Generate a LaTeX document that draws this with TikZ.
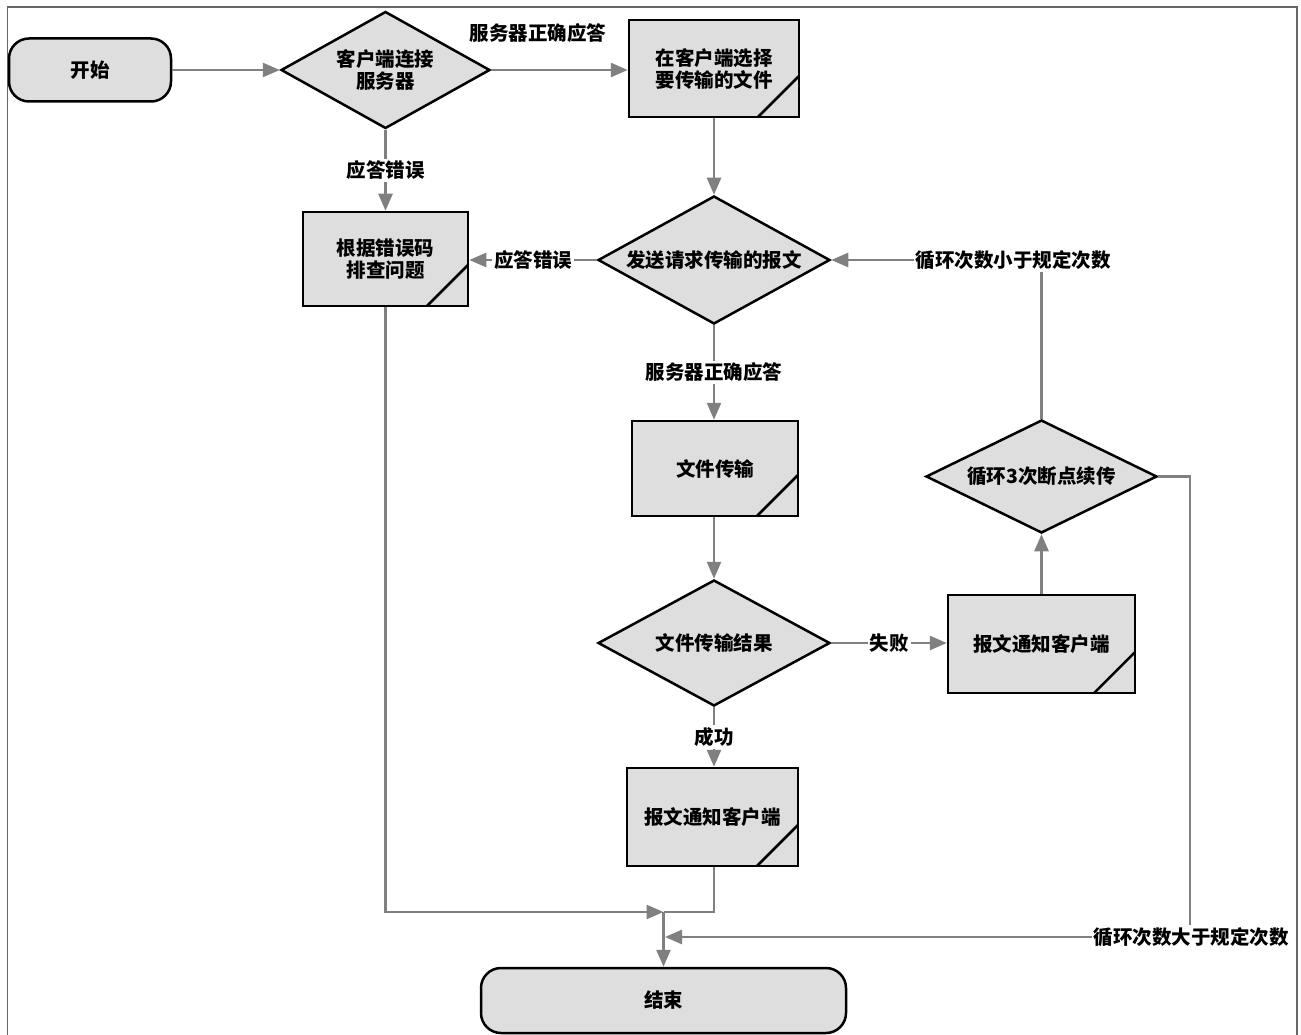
\documentclass[tikz,border=0pt]{standalone}
\usepackage{fontspec}
\setmainfont{Noto Sans CJK SC}
\usetikzlibrary{shapes.geometric,arrows.meta}
\definecolor{boxfill}{HTML}{DEDEDE}
\definecolor{conn}{HTML}{808080}
\begin{document}
\begin{tikzpicture}[x=1pt,y=-1pt,
  every node/.style={font=\fontsize{19.5}{22}\selectfont\bfseries},
  term/.style={draw=black,line width=2.5pt,fill=boxfill,rounded corners=20pt,inner sep=0pt},
  procbox/.style={draw=black,line width=2.5pt,fill=boxfill,inner sep=0pt,align=center,
    path picture={\draw[line width=2.5pt] ([xshift=-41pt]path picture bounding box.south east) -- ++(41pt,41pt);}},
  decide/.style={draw=black,line width=2.5pt,fill=boxfill,diamond,inner sep=0pt,align=center},
  conn/.style={draw=conn,line width=2.6pt,-{Triangle[length=17pt,width=14pt]}},
  plain/.style={draw=conn,line width=2.6pt},
  lbl/.style={fill=white,inner sep=2pt}]
\useasboundingbox (0,0) rectangle (1301,1035);
% frame
\draw[draw=black!60,line width=1.2pt] (7.5,1040) -- (7.5,7) -- (1297,7) -- (1297,1040);

% nodes
\node[term,minimum width=162pt,minimum height=63pt] (start) at (90,70) {开始};
\node[decide,aspect=1.79,minimum width=209pt,minimum height=117pt] (d1) at (385.5,70) {客户端连接\\服务器};
\node[procbox,minimum width=170pt,minimum height=97pt] (sel) at (714,68.5) {在客户端选择\\要传输的文件};
\node[procbox,minimum width=165pt,minimum height=94pt] (err) at (385.5,259) {根据错误码\\排查问题};
\node[decide,aspect=1.81,minimum width=232pt,minimum height=128pt] (d2) at (714,260) {发送请求传输的报文};
\node[procbox,minimum width=166pt,minimum height=95pt] (trans) at (715,468.5) {文件传输};
\node[decide,aspect=1.84,minimum width=232pt,minimum height=126pt] (d3) at (714,643) {文件传输结果};
\node[procbox,minimum width=187pt,minimum height=98pt] (fail) at (1041.5,644) {报文通知客户端};
\node[decide,aspect=2.04,minimum width=231pt,minimum height=113pt] (d4) at (1041.5,476.5) {循环3次断点续传};
\node[procbox,minimum width=171pt,minimum height=98pt] (ok) at (712.5,817) {报文通知客户端};
\node[term,minimum width=365pt,minimum height=65pt] (end) at (663.5,1000.5) {结束};

\coordinate (j) at (663.5,912);
\coordinate (cUp) at (1041.5,260);
\coordinate (cR1) at (1190,476.5);
\coordinate (cR2) at (1190,937);
\coordinate (cIn) at (665,937);

% connectors
\draw[conn] (start.east) -- (d1.west);
\draw[conn] (d1.east) -- (sel.west |- d1.east);
\node at (538,33) (l1) {服务器正确应答};
\draw[conn] (d1.south) -- node[lbl] (l2) {应答错误} (err.north);
\draw[conn] (sel.south) -- (d2.north);
\draw[conn] (d2.west) -- node[lbl] (l3) {应答错误} (err.east |- d2.west);
\draw[conn] (d2.south) -- node[lbl] (l4) {服务器正确应答} (trans.north -| d2.south);
\draw[conn] (trans.south -| d3.north) -- (d3.north);
\draw[conn] (d3.east) -- node[lbl] (l5) {失败} (fail.west |- d3.east);
\draw[conn] (d3.south) -- node[lbl] (l6) {成功} (ok.north -| d3.south);
\draw[conn] (fail.north) -- (d4.south);
\draw[conn] (d4.north) -- (cUp) -- (d2.east);
\node[lbl] (l7) at (1013,260) {循环次数小于规定次数};
\draw[conn] (d4.east) -- (cR1) -- (cR2) -- (cIn);
\node[lbl] (l8) at (1191,937) {循环次数大于规定次数};
\draw[conn] (err.south) -- (err.south |- j) -- (j);
\draw[plain] (ok.south -| d3.south) -- (d3.south |- j) -- (j);
\draw[conn] (j) -- (end.north -| j);
\end{tikzpicture}
\end{document}
